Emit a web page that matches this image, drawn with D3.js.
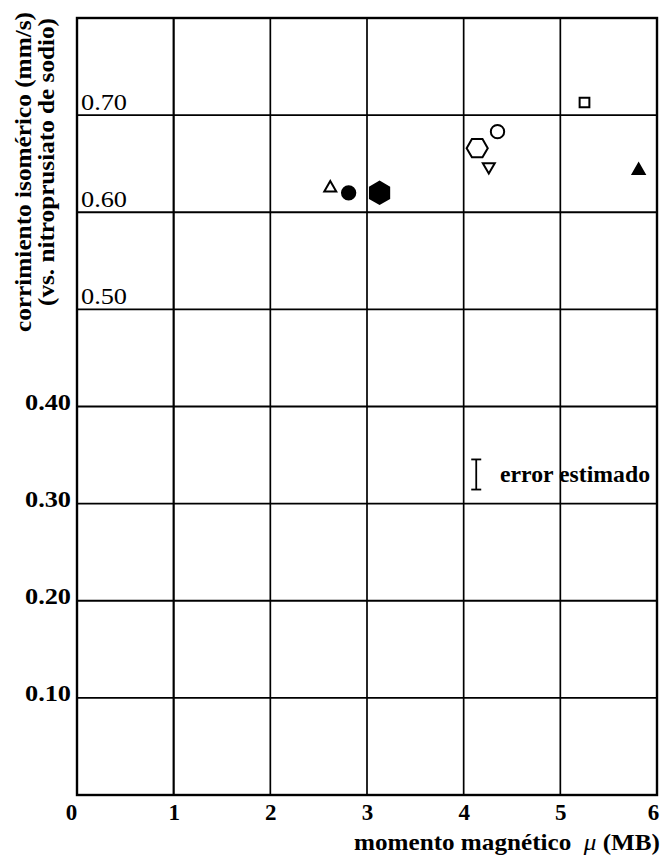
<!DOCTYPE html>
<html>
<head>
<meta charset="utf-8">
<script src="https://cdn.jsdelivr.net/npm/d3@7"></script>
<style>
  html, body { margin: 0; padding: 0; background: #fff; }
  svg { display: block; }
  svg text { font-family: "Liberation Serif", "Times New Roman", Tinos, Times, serif; fill: #000; }
</style>
</head>
<body>
<svg id="chart" width="662" height="856"></svg>
<script>
// Data
const moment = [5.25, 4.35, 4.14, 4.26, 5.81, 2.62, 2.81, 3.13];
const shift = [0.713, 0.683, 0.666, 0.647, 0.643, 0.625, 0.620, 0.620];
const shape = ["square", "circle", "hexagon", "triangleDown", "triangle", "triangle", "circle", "hexagonFilled"];
const filled = [false, false, false, false, true, false, true, true];

const xTicks = [0, 1, 2, 3, 4, 5, 6];
const xTickLabels = ["0", "1", "2", "3", "4", "5", "6"];
const yGrid = [0.1, 0.2, 0.3, 0.4, 0.5, 0.6, 0.7];
const yOuterTicks = [0.1, 0.2, 0.3, 0.4];
const yOuterLabels = ["0.10", "0.20", "0.30", "0.40"];
const yInnerTicks = [0.5, 0.6, 0.7];
const yInnerLabels = ["0.50", "0.60", "0.70"];

// estimated error bar
const errorX = 4.13;
const errorCenter = 0.33;
const errorHalf = 0.0155;

const width = 662;
const height = 856;

const x = d3.scaleLinear().domain([0, 6]).range([77, 657]);
const y = d3.scaleLinear().domain([0, 0.8]).range([795, 18]);

const svg = d3.select("#chart");
svg.append("rect").attr("width", width).attr("height", height).attr("fill", "#fff");

// Grid
const grid = svg.append("g").attr("stroke", "#000").attr("fill", "none");
grid.selectAll("line.v")
  .data(xTicks.slice(1, -1))
  .join("line")
  .attr("class", "v")
  .attr("x1", (d) => x(d)).attr("x2", (d) => x(d))
  .attr("y1", y(0)).attr("y2", y(0.8))
  .attr("stroke-width", (d) => (d === 1 ? 2.2 : 1.7));

grid.selectAll("line.h")
  .data(yGrid)
  .join("line")
  .attr("class", "h")
  .attr("x1", x(0)).attr("x2", x(6))
  .attr("y1", (d) => y(d)).attr("y2", (d) => y(d))
  .attr("stroke-width", 1.9);

// Frame
svg.append("rect")
  .attr("x", x(0)).attr("y", y(0.8))
  .attr("width", x(6) - x(0)).attr("height", y(0) - y(0.8))
  .attr("fill", "none").attr("stroke", "#000").attr("stroke-width", 2.4);

// X tick labels
const xAxis = svg.append("g")
  .attr("transform", `translate(0,${y(0)})`)
  .call(d3.axisBottom(x).tickValues(xTicks).tickSize(0)
    .tickFormat((d, i) => xTickLabels[i]));
xAxis.select(".domain").remove();
xAxis.attr("font-family", null).attr("font-size", null);
xAxis.selectAll("text")
  .attr("y", 25)
  .attr("dy", null)
  .attr("dx", (d) => (d === 0 ? -6 : d === 6 ? -4 : 0))
  .style("font-weight", "bold")
  .style("font-size", "23px");

// Y labels outside the frame
svg.append("g")
  .selectAll("text")
  .data(yOuterTicks)
  .join("text")
  .attr("x", 71)
  .attr("y", (d) => y(d) + 3)
  .attr("text-anchor", "end")
  .style("font-weight", "bold")
  .style("font-size", "24px")
  .attr("textLength", 46)
  .attr("lengthAdjust", "spacingAndGlyphs")
  .text((d, i) => yOuterLabels[i]);

// Y labels inside the frame
svg.append("g")
  .selectAll("text")
  .data(yInnerTicks)
  .join("text")
  .attr("x", 81)
  .attr("y", (d) => y(d) - 5)
  .style("font-size", "24px")
  .attr("textLength", 46)
  .attr("lengthAdjust", "spacingAndGlyphs")
  .text((d, i) => yInnerLabels[i]);

// Axis titles
const xTitle = svg.append("text")
  .attr("x", 660).attr("y", 850)
  .attr("text-anchor", "end")
  .style("font-weight", "bold")
  .style("font-size", "24px")
  .attr("textLength", 306)
  .attr("lengthAdjust", "spacingAndGlyphs")
  .attr("xml:space", "preserve");
xTitle.append("tspan").text("momento magnético  ");
xTitle.append("tspan").style("font-style", "italic").style("font-weight", "normal").text("μ");
xTitle.append("tspan").text(" (MB)");

const yTitle = svg.append("g").attr("text-anchor", "middle");
yTitle.append("text")
  .attr("transform", "translate(31,172) rotate(-90)")
  .style("font-size", "23px")
  .style("font-weight", "bold")
  .attr("textLength", 320)
  .attr("lengthAdjust", "spacingAndGlyphs")
  .text("corrimiento isomérico (mm/s)");
yTitle.append("text")
  .attr("transform", "translate(54,162) rotate(-90)")
  .style("font-size", "23px")
  .style("font-weight", "bold")
  .attr("textLength", 288)
  .attr("lengthAdjust", "spacingAndGlyphs")
  .text("(vs. nitroprusiato de sodio)");

// Markers
const hexagon = {
  draw(context, size) {
    const r = Math.sqrt(size / (1.5 * Math.sqrt(3)));
    for (let i = 0; i < 6; i++) {
      const a = (Math.PI / 3) * i;
      const px = r * Math.cos(a);
      const py = r * Math.sin(a);
      if (i === 0) context.moveTo(px, py);
      else context.lineTo(px, py);
    }
    context.closePath();
  },
};

const markerStyle = {
  square: { type: d3.symbolSquare, size: 95, rotate: 0 },
  circle: { type: d3.symbolCircle, size: 140, rotate: 0 },
  hexagon: { type: hexagon, size: 290, rotate: 0 },
  hexagonFilled: { type: hexagon, size: 320, rotate: 30 },
  triangle: { type: d3.symbolTriangle, size: 62, rotate: 0 },
  triangleDown: { type: d3.symbolTriangle, size: 62, rotate: 180 },
};

svg.append("g")
  .selectAll("path")
  .data(moment.map((m, i) => ({ m, s: shift[i], shape: shape[i], filled: filled[i] })))
  .join("path")
  .attr("transform", (d) => `translate(${x(d.m)},${y(d.s)}) rotate(${markerStyle[d.shape].rotate})`)
  .attr("d", (d) => d3.symbol().type(markerStyle[d.shape].type).size(markerStyle[d.shape].size)())
  .attr("fill", (d) => (d.filled ? "#000" : "#fff"))
  .attr("stroke", "#000")
  .attr("stroke-width", 2);

// Error estimate
const err = svg.append("g").attr("stroke", "#000").attr("stroke-width", 1.8);
const ex = x(errorX);
err.append("line")
  .attr("x1", ex).attr("x2", ex)
  .attr("y1", y(errorCenter + errorHalf)).attr("y2", y(errorCenter - errorHalf));
[errorCenter + errorHalf, errorCenter - errorHalf].forEach((v) => {
  err.append("line")
    .attr("x1", ex - 5).attr("x2", ex + 5)
    .attr("y1", y(v)).attr("y2", y(v));
});
svg.append("text")
  .attr("x", 500).attr("y", 482)
  .style("font-weight", "bold")
  .style("font-size", "23px")
  .attr("textLength", 150)
  .attr("lengthAdjust", "spacingAndGlyphs")
  .text("error estimado");
</script>
</body>
</html>
